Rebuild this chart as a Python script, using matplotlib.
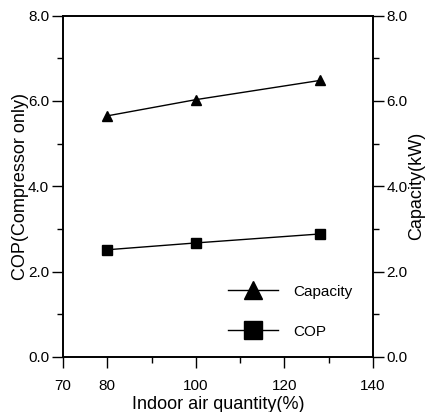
import matplotlib.pyplot as plt
from matplotlib.ticker import FixedLocator

plt.rcParams['font.family'] = ['Liberation Sans', 'DejaVu Sans']

# data
air_quantity = [80, 100, 128]
capacity = [5.65, 6.03, 6.48]
cop = [2.51, 2.67, 2.88]

fig = plt.figure(figsize=(4.33, 4.12), dpi=100)
ax = fig.add_axes([0.1455, 0.134, 0.7155, 0.828])

ax.plot(air_quantity, capacity, color='black', lw=1.0, marker='^', ms=6.5, label='Capacity')
ax.plot(air_quantity, cop, color='black', lw=1.0, marker='s', ms=6.5, label='COP')

ax.set_xlim(70, 140)
ax.set_ylim(0, 8)
ax.set_xticks([70, 80, 100, 120, 140])
ax.xaxis.set_minor_locator(FixedLocator([90, 110, 130]))
ax.set_yticks([0, 2, 4, 6, 8])
ax.set_yticklabels(['0.0', '2.0', '4.0', '6.0', '8.0'])
ax.yaxis.set_minor_locator(FixedLocator([1, 3, 5, 7]))
ax.tick_params(which='major', direction='out', length=8, width=1, labelsize=11)
ax.tick_params(which='minor', direction='out', length=4, width=1)
ax.tick_params(axis='x', pad=8)
ax.tick_params(axis='y', pad=2)

ax2 = ax.twinx()
ax2.set_ylim(0, 8)
ax2.set_yticks([0, 2, 4, 6, 8])
ax2.set_yticklabels(['0.0', '2.0', '4.0', '6.0', '8.0'])
ax2.yaxis.set_minor_locator(FixedLocator([1, 3, 5, 7]))
ax2.tick_params(which='major', direction='out', length=8, width=1, labelsize=11, pad=2)
ax2.tick_params(which='minor', direction='out', length=4, width=1)
ax2.set_ylabel('Capacity(kW)', fontsize=13, labelpad=0)

for a in (ax, ax2):
    for s in a.spines.values():
        s.set_linewidth(1.2)

ax.set_xlabel('Indoor air quantity(%)', fontsize=13, labelpad=2)
ax.set_ylabel('COP(Compressor only)', fontsize=13, labelpad=-1)

ax.legend(loc='lower right', bbox_to_anchor=(0.955, 0.035), borderaxespad=0, frameon=False,
          markerscale=2.1, handlelength=3.3, handletextpad=1.0, labelspacing=1.7, fontsize=11)

fig.savefig('out.png', dpi=100)
